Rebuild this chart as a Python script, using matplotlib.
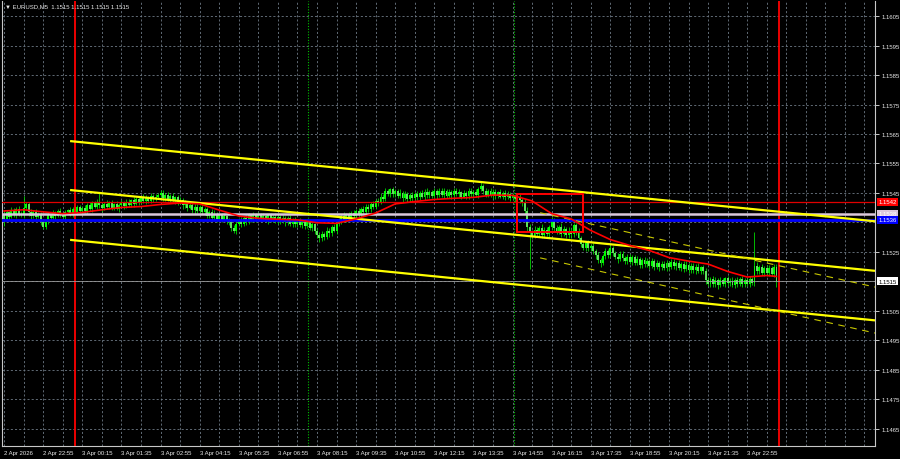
import numpy as np
import matplotlib
matplotlib.use('Agg')
import matplotlib.pyplot as plt
from matplotlib.patches import Rectangle

# EURUSD M5, one close per bar (bar 0 = 2 Apr 21:35)
close = [
    1.15362, 1.15384, 1.15370, 1.15392, 1.15378, 1.15396, 1.15380, 1.15374, 1.15398, 1.15412, 1.15384, 1.15372, 1.15386, 1.15370, 1.15380, 1.15352,
    1.15336, 1.15350, 1.15376, 1.15366, 1.15384, 1.15372, 1.15388, 1.15376, 1.15368, 1.15384, 1.15392, 1.15380, 1.15396, 1.15386, 1.15402, 1.15390,
    1.15400, 1.15388, 1.15408, 1.15396, 1.15416, 1.15404, 1.15420, 1.15408, 1.15398, 1.15414, 1.15404, 1.15418, 1.15400, 1.15412, 1.15396, 1.15410,
    1.15418, 1.15406, 1.15420, 1.15410, 1.15426, 1.15414, 1.15430, 1.15418, 1.15434, 1.15422, 1.15436, 1.15424, 1.15440, 1.15428, 1.15438, 1.15444,
    1.15450, 1.15432, 1.15444, 1.15428, 1.15440, 1.15424, 1.15436, 1.15418, 1.15426, 1.15408, 1.15416, 1.15400, 1.15410, 1.15392, 1.15404, 1.15390,
    1.15402, 1.15386, 1.15394, 1.15372, 1.15386, 1.15366, 1.15380, 1.15362, 1.15374, 1.15360, 1.15372, 1.15356, 1.15350, 1.15330, 1.15322, 1.15346,
    1.15358, 1.15346, 1.15366, 1.15352, 1.15374, 1.15360, 1.15376, 1.15362, 1.15378, 1.15364, 1.15372, 1.15358, 1.15374, 1.15360, 1.15370, 1.15356,
    1.15370, 1.15354, 1.15366, 1.15350, 1.15364, 1.15346, 1.15360, 1.15344, 1.15356, 1.15340, 1.15354, 1.15338, 1.15350, 1.15332, 1.15344, 1.15322,
    1.15306, 1.15296, 1.15312, 1.15300, 1.15322, 1.15314, 1.15334, 1.15322, 1.15346, 1.15356, 1.15372, 1.15360, 1.15376, 1.15366, 1.15382, 1.15372,
    1.15388, 1.15378, 1.15396, 1.15386, 1.15404, 1.15394, 1.15412, 1.15404, 1.15424, 1.15418, 1.15438, 1.15430, 1.15456, 1.15446, 1.15462, 1.15448,
    1.15456, 1.15440, 1.15450, 1.15432, 1.15446, 1.15430, 1.15444, 1.15432, 1.15448, 1.15436, 1.15450, 1.15438, 1.15454, 1.15442, 1.15452, 1.15440,
    1.15456, 1.15442, 1.15458, 1.15444, 1.15456, 1.15440, 1.15454, 1.15442, 1.15458, 1.15446, 1.15452, 1.15438, 1.15450, 1.15440, 1.15458, 1.15446,
    1.15454, 1.15444, 1.15462, 1.15474, 1.15456, 1.15444, 1.15458, 1.15442, 1.15454, 1.15440, 1.15452, 1.15438, 1.15450, 1.15436, 1.15448, 1.15434,
    1.15440, 1.15428, 1.15438, 1.15426, 1.15418, 1.15390, 1.15336, 1.15318, 1.15304, 1.15326, 1.15312, 1.15332, 1.15308, 1.15326, 1.15312, 1.15334,
    1.15356, 1.15332, 1.15320, 1.15336, 1.15312, 1.15328, 1.15306, 1.15322, 1.15310, 1.15340, 1.15318, 1.15296, 1.15276, 1.15264, 1.15280, 1.15262,
    1.15270, 1.15252, 1.15238, 1.15222, 1.15212, 1.15236, 1.15252, 1.15240, 1.15262, 1.15246, 1.15234, 1.15226, 1.15244, 1.15228, 1.15218, 1.15234,
    1.15216, 1.15232, 1.15214, 1.15226, 1.15206, 1.15222, 1.15208, 1.15220, 1.15204, 1.15218, 1.15200, 1.15214, 1.15198, 1.15210, 1.15196, 1.15214,
    1.15198, 1.15216, 1.15202, 1.15212, 1.15196, 1.15210, 1.15192, 1.15206, 1.15190, 1.15204, 1.15188, 1.15200, 1.15186, 1.15198, 1.15184, 1.15156,
    1.15142, 1.15158, 1.15140, 1.15156, 1.15138, 1.15154, 1.15142, 1.15160, 1.15144, 1.15152, 1.15138, 1.15156, 1.15142, 1.15158, 1.15140, 1.15154,
    1.15142, 1.15158, 1.15146, 1.15204, 1.15184, 1.15200, 1.15180, 1.15196, 1.15178, 1.15194, 1.15176, 1.15198, 1.15148,
]
first_open = 1.15380

# shadows above / below the body, in points (0.00001)
up_pts = [
    6, 9, 4, 12, 7, 5, 10, 8, 4, 9, 6, 11, 5, 8, 7, 6,
    8, 5, 10, 6, 9, 4, 7, 11, 6, 8, 5, 9, 7, 10, 6, 8,
    5, 9, 7, 12, 6, 8, 10, 5, 9, 7, 11, 6, 8, 4, 10, 7,
    9, 6, 8, 11, 5, 10, 7, 9, 6, 12, 8, 5, 10, 7, 9, 6,
    8, 10, 6, 9, 7, 11, 5, 8, 10, 6, 9, 7, 12, 5, 8, 10,
    6, 9, 7, 10, 5, 8, 11, 6, 9, 7, 10, 5, 8, 12, 6, 9,
    7, 10, 5, 9, 8, 6, 11, 7, 9, 5, 10, 8, 6, 9, 7, 11,
    9, 6, 10, 7, 8, 11, 5, 9, 7, 10, 6, 8, 12, 7, 9, 5,
    10, 7, 9, 6, 11, 8, 7, 10, 5, 9, 8, 12, 6, 10, 7, 9,
    8, 11, 6, 9, 7, 10, 8, 12, 6, 9, 11, 7, 10, 8, 6, 9,
    7, 9, 12, 6, 10, 8, 5, 11, 7, 9, 6, 10, 8, 12, 7, 9,
    10, 6, 9, 8, 11, 7, 9, 5, 10, 8, 12, 6, 9, 7, 10, 8,
    6, 10, 8, 9, 7, 11, 6, 10, 8, 9, 5, 11, 7, 10, 8, 6,
    9, 7, 10, 8, 6, 12, 14, 10, 8, 11, 9, 7, 12, 8, 10, 9,
    11, 8, 10, 7, 12, 9, 8, 11, 10, 7, 9, 12, 8, 10, 7, 9,
    8, 10, 7, 12, 9, 8, 11, 7, 10, 9, 6, 11, 8, 10, 7, 9,
    10, 7, 9, 11, 8, 6, 10, 9, 7, 12, 8, 10, 6, 9, 11, 8,
    7, 9, 11, 8, 10, 6, 9, 12, 8, 7, 10, 9, 11, 6, 8, 10,
    9, 6, 10, 8, 7, 11, 9, 6, 10, 8, 12, 7, 9, 6, 10, 8,
    7, 10, 8, 9, 11, 7, 10, 6, 9, 11, 8, 10, 12,
]
dn_pts = [
    8, 5, 10, 6, 9, 12, 7, 5, 8, 6, 11, 9, 7, 10, 6, 12,
    9, 7, 6, 10, 8, 11, 5, 9, 7, 12, 6, 8, 10, 5, 9, 7,
    10, 6, 8, 7, 11, 5, 9, 8, 12, 6, 7, 10, 9, 8, 5, 11,
    7, 10, 6, 9, 8, 12, 5, 10, 7, 6, 11, 9, 8, 10, 6, 9,
    11, 8, 9, 6, 10, 7, 12, 9, 5, 11, 8, 10, 6, 9, 12, 7,
    9, 6, 11, 8, 7, 10, 6, 12, 8, 9, 5, 11, 10, 8, 7, 10,
    8, 12, 7, 10, 6, 9, 8, 11, 7, 10, 9, 6, 12, 8, 10, 7,
    10, 8, 6, 11, 9, 7, 12, 8, 10, 6, 9, 11, 7, 8, 10, 12,
    9, 11, 8, 10, 7, 12, 9, 6, 10, 8, 11, 7, 9, 10, 6, 8,
    7, 9, 10, 6, 11, 8, 9, 7, 10, 12, 6, 9, 8, 7, 11, 10,
    10, 7, 8, 11, 6, 9, 12, 8, 7, 10, 9, 6, 11, 8, 10, 7,
    8, 11, 7, 9, 10, 6, 8, 12, 9, 7, 10, 8, 6, 11, 9, 10,
    9, 7, 11, 6, 10, 8, 9, 7, 12, 10, 8, 6, 9, 11, 7, 10,
    8, 10, 7, 9, 12, 10, 14, 12, 9, 8, 11, 10, 9, 12, 8, 10,
    9, 12, 8, 10, 11, 7, 9, 10, 12, 8, 11, 9, 10, 8, 12, 9,
    10, 8, 11, 9, 12, 7, 9, 10, 8, 11, 9, 12, 7, 10, 9, 8,
    8, 11, 9, 7, 10, 12, 8, 9, 11, 7, 10, 8, 12, 9, 7, 10,
    10, 7, 9, 12, 8, 10, 9, 7, 11, 10, 8, 12, 9, 10, 8, 14,
    9, 11, 8, 10, 12, 7, 9, 11, 8, 10, 7, 9, 11, 8, 10, 9,
    8, 10, 9, 12, 8, 10, 9, 11, 8, 10, 9, 12, 10,
]

# long wicks: bar -> (low, high)
wicks = {0: (1.15338, 1.15392), 8: (1.15390, 1.15440), 16: (1.15328, 1.15362),
         39: (1.15404, 1.15453), 64: (1.15436, 1.15460), 94: (1.15318, 1.15340),
         129: (1.15288, 1.15318), 195: (1.15456, 1.15487), 215: (1.15192, 1.15330),
         307: (1.15150, 1.15318), 316: (1.15131, 1.15196)}

# moving average, sampled every 8 bars
ma_bars = [0, 8, 16, 24, 32, 40, 48, 56, 64, 72, 80, 88, 96, 104, 112, 120, 128, 136, 144, 152,
           160, 168, 176, 184, 192, 200, 208, 216, 224, 232, 240, 248, 256, 264, 272, 280, 288, 296,
           304, 312, 316]
ma_vals = [1.15389, 1.15393, 1.15386, 1.15380, 1.15384, 1.15393, 1.15401, 1.15404, 1.15411, 1.15416,
           1.15413, 1.15392, 1.15372, 1.15364, 1.15361, 1.15359, 1.15349, 1.15347, 1.15362, 1.15382,
           1.15413, 1.15421, 1.15428, 1.15432, 1.15435, 1.15443, 1.15442, 1.15423, 1.15380, 1.15362,
           1.15323, 1.15292, 1.15272, 1.15255, 1.15231, 1.15219, 1.15209, 1.15184, 1.15165, 1.15170,
           1.15167]

time_labels = ['2 Apr 2026', '2 Apr 22:55', '3 Apr 00:15', '3 Apr 01:35', '3 Apr 02:55',
               '3 Apr 04:15', '3 Apr 05:35', '3 Apr 06:55', '3 Apr 08:15', '3 Apr 09:35',
               '3 Apr 10:55', '3 Apr 12:15', '3 Apr 13:35', '3 Apr 14:55', '3 Apr 16:15',
               '3 Apr 17:35', '3 Apr 18:55', '3 Apr 20:15', '3 Apr 21:35', '3 Apr 22:55']
price_labels = ['1.1605', '1.1595', '1.1585', '1.1575', '1.1565', '1.1555', '1.1545',
                '1.1525', '1.1505', '1.1495', '1.1485', '1.1475', '1.1465']
grid_levels = ['1.1605', '1.1595', '1.1585', '1.1575', '1.1565', '1.1555', '1.1545', '1.1535',
               '1.1525', '1.1515', '1.1505', '1.1495', '1.1485', '1.1475', '1.1465']

# horizontal levels
level_red = 1.1542
level_white = 1.1538
level_blue = 1.1536
bid = 1.1515

# trend channel (bar0, price0, bar1, price1)
channel = [(27, 1.15626, 356.3, 1.15354),
           (27, 1.15460, 356.3, 1.15186),
           (27, 1.15291, 356.3, 1.15018)]
dashed = [(219.3, 1.15383, 356.3, 1.15131),
          (219.3, 1.15230, 356.3, 1.14975)]
box = (209.7, 1.15317, 237.0, 1.15446)

red_vlines = [29, 317]
green_vlines = [124.4, 208.6]

BG = 'black'
FG = '#e8e8e8'
GRID = '#6e7a86'

fig = plt.figure(figsize=(9, 4.6), dpi=100, facecolor=BG)
ax = fig.add_axes([2 / 900, 13 / 460, 873 / 900, 445 / 460])
ax.set_facecolor(BG)
ax.set_xlim(-0.86, 356.3)
ax.set_ylim(1.14592, 1.16101)

# grid
for b in range(0, 357, 8):
    ax.axvline(b, color=GRID, lw=0.6, ls=(0, (2.5, 2.5)), zorder=0)
for s in grid_levels:
    ax.axhline(float(s), color=GRID, lw=0.6, ls=(0, (2.5, 2.5)), zorder=0)

# candles
c = np.array(close)
o = np.concatenate([[first_open], c[:-1]])
x = np.arange(len(c))
hi = np.maximum(o, c) + np.array(up_pts) * 1e-5
lo = np.minimum(o, c) - np.array(dn_pts) * 1e-5
for b, (l, h_) in wicks.items():
    lo[b] = min(lo[b], l)
    hi[b] = max(hi[b], h_)
up = c >= o
lo_b = np.minimum(o, c)
h = np.maximum(np.abs(c - o), 0.00003)
ax.vlines(x, lo, hi, color='#00d800', lw=0.6, zorder=2)
ax.bar(x[up], h[up], bottom=lo_b[up], width=0.8, color='#00ff00', lw=0, zorder=2)
ax.bar(x[~up], h[~up], bottom=lo_b[~up], width=0.8, color='#60e060', lw=0, zorder=2)

# vertical session lines
for b in red_vlines:
    ax.axvline(b, color='#ff0000', lw=1.3, zorder=3)
for b in green_vlines:
    ax.axvline(b, color='#00c000', lw=0.8, ls=(0, (1, 1.5)), zorder=3)

# horizontal levels
ax.axhline(level_red, color='#e00000', lw=0.9, zorder=4)
ax.axhline(level_white, color='#dcc8dc', lw=1.8, zorder=4)
ax.axhline(level_blue, color='#0000ff', lw=2.0, zorder=4)
ax.axhline(bid, color='#9a9a9a', lw=0.6, zorder=4)

# channel lines
for b0, p0, b1, p1 in channel:
    ax.plot([b0, b1], [p0, p1], color='#ffff00', lw=1.6, zorder=5, solid_capstyle='butt')
for b0, p0, b1, p1 in dashed:
    ax.plot([b0, b1], [p0, p1], color='#c8c800', lw=0.8, ls=(0, (6, 5)), zorder=5)

# moving average
ax.plot(ma_bars, ma_vals, color='#ff0000', lw=1.2, zorder=6)

# rectangle
ax.add_patch(Rectangle((box[0], box[1]), box[2] - box[0], box[3] - box[1],
                       fill=False, edgecolor='#ff0000', lw=1.4, zorder=6))

# axes frame and ticks
for sp in ax.spines.values():
    sp.set_color('#c8c8c8')
    sp.set_linewidth(0.8)
ax.spines['top'].set_visible(False)
ax.yaxis.tick_right()
ax.set_yticks([float(s) for s in price_labels])
ax.set_yticklabels(price_labels)
ax.set_xticks([16 * i for i in range(len(time_labels))])
ax.set_xticklabels(time_labels, ha='left')
ax.tick_params(axis='y', colors=FG, length=3, width=0.6, pad=2, labelsize=4.3)
ax.tick_params(axis='x', colors=FG, length=0, pad=3, labelsize=4.3)
for t in ax.get_yticklabels() + ax.get_xticklabels():
    t.set_fontfamily('Liberation Sans')

# price boxes on the right scale
yx = ax.get_yaxis_transform()
for val, txt, fc, tc in [(level_red, '1.1542', '#ff0000', 'white'),
                          (level_white, '1.1538', '#dcc8dc', 'white'),
                          (level_blue, '1.1536', '#0000ff', 'white'),
                          (bid, '1.1515', 'white', 'black')]:
    ax.text(1.0035, val, txt, transform=yx, fontsize=4.3, family='Liberation Sans',
            color=tc, va='center', ha='left', clip_on=False, zorder=10,
            bbox=dict(boxstyle='square,pad=0.25', fc=fc, ec='none'))

ax.text(0.004, 0.989, '\u25bc EURUSD,M5  1.1515 1.1515 1.1515 1.1515', transform=ax.transAxes,
        fontsize=4.3, color=FG, va='center', ha='left', family=['Liberation Sans', 'DejaVu Sans'],
        zorder=10)

fig.savefig('out.png', dpi=100, facecolor=BG)
